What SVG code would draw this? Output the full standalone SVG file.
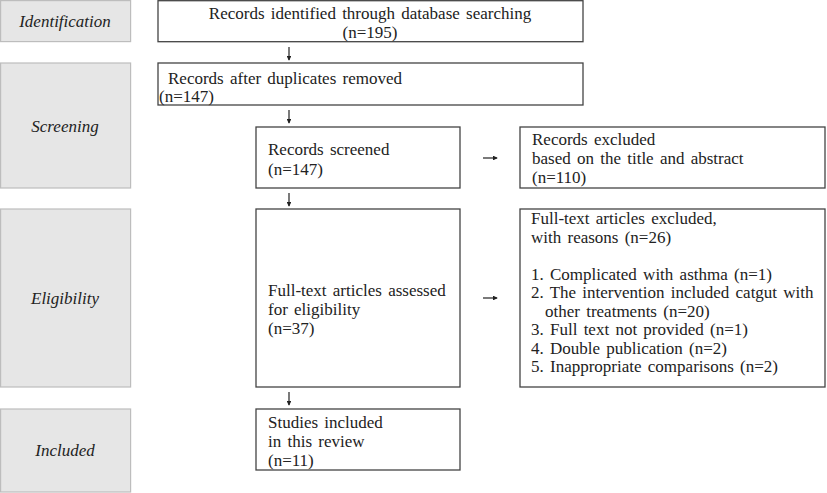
<svg xmlns="http://www.w3.org/2000/svg" width="827" height="493" viewBox="0 0 827 493">
<style>
.phase{fill:#e6e6e6;stroke:#bdbdbd;stroke-width:1.2}
.box{fill:#fff;stroke:#444;stroke-width:1.3}
.pt{font-family:"Liberation Serif",serif;font-style:italic;font-size:17px;fill:#222;text-anchor:middle}
.t{font-family:"Liberation Serif",serif;font-size:17px;fill:#222;word-spacing:2px}
.c{text-anchor:middle}
.arr{stroke:#222;stroke-width:1.2;fill:none;marker-end:url(#ah)}
</style>
<defs>
<marker id="ah" viewBox="0 0 6 6" refX="5" refY="3" markerWidth="4" markerHeight="4" orient="auto" markerUnits="strokeWidth">
<path d="M0,0 L6,3 L0,6 Z" fill="#222"/>
</marker>
</defs>
<rect width="827" height="493" fill="#fff"/>
<g id="phase-identification"><rect class="phase" x="0.6" y="0.6" width="130" height="41"/><text class="pt" x="65" y="27">Identification</text></g>
<g id="phase-screening"><rect class="phase" x="0.6" y="63" width="130" height="125"/><text class="pt" x="65" y="132">Screening</text></g>
<g id="phase-eligibility"><rect class="phase" x="0.6" y="209" width="130" height="178"/><text class="pt" x="65" y="304">Eligibility</text></g>
<g id="phase-included"><rect class="phase" x="0.6" y="409" width="130" height="83"/><text class="pt" x="65" y="456">Included</text></g>

<g id="identified"><rect class="box" x="158" y="0.7" width="425" height="41"/>
<text class="t c" x="370" y="19">Records identified through database searching</text>
<text class="t c" x="370" y="38">(n=195)</text></g>
<g id="duplicates"><rect class="box" x="158" y="63" width="425" height="42"/>
<text class="t" x="168" y="84">Records after duplicates removed</text>
<text class="t" x="159" y="102">(n=147)</text></g>
<g id="screened"><rect class="box" x="256" y="127" width="204" height="61"/>
<text class="t" x="268" y="155">Records screened</text>
<text class="t" x="268" y="175">(n=147)</text></g>
<g id="excluded-screen"><rect class="box" x="520" y="127" width="305" height="61"/>
<text class="t" x="532" y="145">Records excluded</text>
<text class="t" x="532" y="164">based on the title and abstract</text>
<text class="t" x="532" y="183">(n=110)</text></g>
<g id="fulltext"><rect class="box" x="256" y="209" width="204" height="178"/>
<text class="t" x="268" y="296">Full-text articles assessed</text>
<text class="t" x="268" y="315">for eligibility</text>
<text class="t" x="268" y="334">(n=37)</text></g>
<g id="excluded-full"><rect class="box" x="520" y="209" width="305" height="178"/>
<text class="t" x="531" y="224">Full-text articles excluded,</text>
<text class="t" x="531" y="243">with reasons (n=26)</text>
<text class="t" x="531" y="280">1. Complicated with asthma (n=1)</text>
<text class="t" x="531" y="298">2. The intervention included catgut with</text>
<text class="t" x="545" y="317">other treatments (n=20)</text>
<text class="t" x="531" y="335">3. Full text not provided (n=1)</text>
<text class="t" x="531" y="354">4. Double publication (n=2)</text>
<text class="t" x="531" y="372">5. Inappropriate comparisons (n=2)</text></g>
<g id="included"><rect class="box" x="256" y="409" width="204" height="61"/>
<text class="t" x="268" y="428">Studies included</text>
<text class="t" x="268" y="447">in this review</text>
<text class="t" x="268" y="466">(n=11)</text></g>

<g id="connectors">
<line class="arr" x1="289" y1="47" x2="289" y2="60"/>
<line class="arr" x1="289" y1="110" x2="289" y2="123"/>
<line class="arr" x1="289" y1="193" x2="289" y2="206"/>
<line class="arr" x1="289" y1="392" x2="289" y2="405"/>
<line class="arr" x1="483" y1="158" x2="497" y2="158"/>
<line class="arr" x1="483" y1="298" x2="497" y2="298"/>
</g>
</svg>
